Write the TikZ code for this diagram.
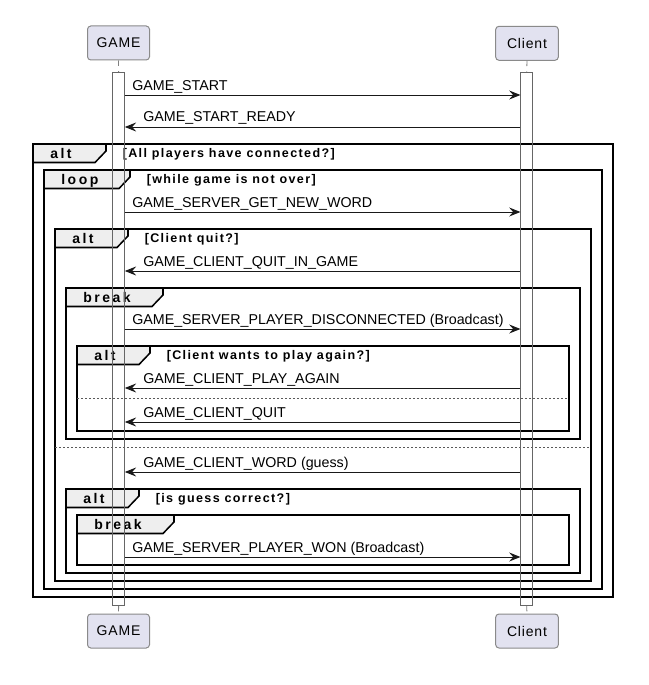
\documentclass[tikz,border=0pt]{standalone}
\usepackage{fontspec}
\setmainfont{Liberation Sans}
\newfontfamily\grdfont[LetterSpace=11]{Liberation Sans}
\newfontfamily\partfont[LetterSpace=6]{Liberation Sans}
\usetikzlibrary{arrows.meta}
\definecolor{tabfill}{HTML}{EEEEEE}
\definecolor{partfill}{HTML}{E2E2F0}
\definecolor{partline}{HTML}{8A8A8A}
\newcommand\tk{\kern1.9pt}
\tikzset{
  frm/.style={draw=black, line width=1.15pt},
  sep/.style={draw=black!65, line width=0.75pt, dash pattern=on 1.5pt off 1.5pt},
  msg/.style={draw=black!90, line width=0.75pt, -{Stealth[length=8.5pt,width=6.75pt,inset=3pt]}},
  msgtxt/.style={inner sep=0pt, anchor=base west, font=\fontsize{10.7pt}{12pt}\selectfont},
  tabtxt/.style={inner sep=0pt, anchor=base west, font=\bfseries\fontsize{10.5pt}{12pt}\selectfont},
  grdtxt/.style={inner sep=0pt, anchor=base west, font=\grdfont\bfseries\fontsize{9.4pt}{11pt}\selectfont},
  part/.style={draw=partline, line width=0.75pt, fill=partfill, rounded corners=2.5pt,
    minimum width=46.5pt, minimum height=25.5pt, inner sep=0pt, font=\partfont\fontsize{10.5pt}{12pt}\selectfont},
  actbar/.style={draw=black!60, line width=0.75pt, minimum width=8.5pt, minimum height=399.75pt, inner sep=0pt},
  life/.style={draw=black!50, line width=0.6pt, dash pattern=on 4pt off 4pt}
}
% #1 name, #2 left, #3 top, #4 right, #5 bottom, #6 tab right, #7 label, #8 guard
\newcommand\fragframe[8]{%
  \draw[frm] (#2,#3) rectangle (#4,#5);
  \draw[frm, fill=tabfill] (#2,#3) -- (#6,#3) -- (#6,#3+7) -- (#6-11,#3+18.5) -- (#2,#3+18.5) -- cycle;
  \node[tabtxt] (#1tab) at (#2+17,#3+14) {#7};
  \node[grdtxt] (#1grd) at (#6+16.5,#3+13.5) {#8};
}
% #1 name, #2 y, #3 label
\newcommand\msgright[3]{%
  \coordinate (#1y) at (0,#2);
  \draw[msg] (gbar.east |- #1y) -- (cbar.west |- #1y);
  \node[msgtxt] (#1) at (132,#2-5) {#3};
}
\newcommand\msgleft[3]{%
  \coordinate (#1y) at (0,#2);
  \draw[msg] (cbar.west |- #1y) -- (gbar.east |- #1y);
  \node[msgtxt] (#1) at (143,#2-5) {#3};
}
\begin{document}
\begin{tikzpicture}[x=0.75pt, y=-0.75pt]
\fill[white] (0,0) rectangle (649,685);
\useasboundingbox (0,0) rectangle (649,685);

% participants
\node[part] (gtop) at (118.5,43) {GAME};
\node[part, minimum width=47pt] (ctop) at (527,43.3) {Client};
\node[part] (gbot) at (118.5,631) {GAME};
\node[part, minimum width=47pt] (cbot) at (527,631) {Client};

% fragments
\fragframe{f1}{33}{144}{613}{597}{106}{a\tk l\tk t}{[All players have connected?]}
\fragframe{f2}{44}{170}{602}{589}{130}{l\tk o\tk o\tk p}{[while game is not over]}
\fragframe{f3}{55}{229}{591}{581}{128}{a\tk l\tk t}{[Client quit?]}
\draw[sep] (55,447) -- (591,447);
\fragframe{f4}{66}{288}{580}{439}{163}{b\tk r\tk e\tk a\tk k}{}
\fragframe{f5}{77}{346}{569}{431}{150}{a\tk l\tk t}{[Client wants to play again?]}
\draw[sep] (77,398) -- (569,398);
\fragframe{f6}{66}{489}{580}{573}{139}{a\tk l\tk t}{[is guess correct?]}
\fragframe{f7}{77}{515}{569}{565}{174}{b\tk r\tk e\tk a\tk k}{}

% activation bars and lifeline stubs
\node[actbar, anchor=north] (gbar) at (118.65,72) {};
\node[actbar, anchor=north] (cbar) at (526.65,72) {};
\draw[life] (gtop.south) -- (gbar.north);
\draw[life] (ctop.south) -- (cbar.north);
\draw[life] (gbar.south) -- (gbot.north);
\draw[life] (cbar.south) -- (cbot.north);

% messages
\msgright{m1}{95}{GAME\_START}
\msgleft{m2}{127}{GAME\_START\_READY}
\msgright{m3}{212}{GAME\_SERVER\_GET\_NEW\_WORD}
\msgleft{m4}{271}{GAME\_CLIENT\_QUIT\_IN\_GAME}
\msgright{m5}{329}{GAME\_SERVER\_PLAYER\_DISCONNECTED (Broadcast)}
\msgleft{m6}{388}{GAME\_CLIENT\_PLAY\_AGAIN}
\msgleft{m7}{422}{GAME\_CLIENT\_QUIT}
\msgleft{m8}{472}{GAME\_CLIENT\_WORD (guess)}
\msgright{m9}{557}{GAME\_SERVER\_PLAYER\_WON (Broadcast)}
\end{tikzpicture}
\end{document}
